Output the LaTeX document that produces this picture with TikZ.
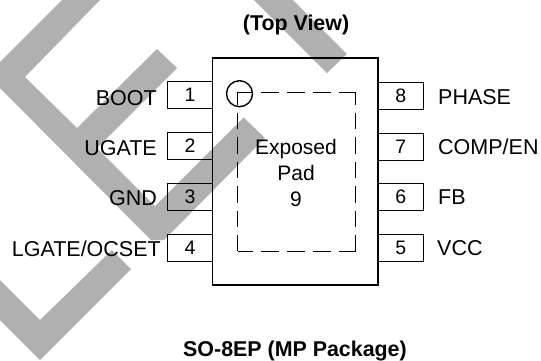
\documentclass[tikz,border=0pt]{standalone}
\usepackage{fontspec}
\setmainfont{Liberation Sans}
\usetikzlibrary{positioning}
\definecolor{markgray}{RGB}{176,176,176}
\tikzstyle{pin} = [rectangle, draw=black, line width=1.2pt,
minimum width=45.5pt, minimum height=27.5pt, inner sep=0pt,
font=\fontsize{19.5}{24}\selectfont]
\tikzstyle{pinname} = [inner sep=0pt, font=\fontsize{21.5}{25}\selectfont]
\tikzstyle{heading} = [inner sep=0pt, anchor=base, font=\bfseries\fontsize{21.4}{25}\selectfont]
\tikzstyle{padedge} = [line width=1.2pt, dash pattern=on 18pt off 8pt, dash phase=3pt]
\tikzstyle{padside} = [line width=1.2pt, dash pattern=on 16.5pt off 8pt, dash phase=4pt]

\begin{document}
\begin{tikzpicture}[x=1pt, y=-1pt]
    \useasboundingbox (0,0) rectangle (541,360);

    % watermark behind the drawing
    \fill[markgray] (62,0) -- (100,0) -- (25,77) -- (77,128) -- (157,49) -- (177,68)
        -- (97,148) -- (155,206) -- (243.5,117.5) -- (265,138) -- (164,240) -- (151,240) -- (0,88) -- (0,62) -- cycle;
    \fill[markgray] (254,0) -- (293,0) -- (347,54) -- (327,73) -- cycle;
    \fill[markgray] (0,280) -- (40,320) -- (112,250) -- (131,269) -- (40,360) -- (0,320) -- cycle;

    % package body
    \node[draw=black, line width=1.2pt, minimum width=165.5pt, minimum height=227pt, inner sep=0pt] (body) at (295.25,171.5) {};

    % left pins
    \node[pin] (pinone) at (190,95) {\raisebox{-3.5pt}{1}};
    \node[pin] (pintwo) at (190,146) {\raisebox{-2pt}{2}};
    \node[pin] (pinthree) at (190,197) {\raisebox{-1.5pt}{3}};
    \node[pin] (pinfour) at (190,248) {\raisebox{-1.5pt}{4}};

    % right pins
    \node[pin] (pineight) at (400.75,96) {8};
    \node[pin] (pinseven) at (400.75,147) {\raisebox{-3pt}{7}};
    \node[pin] (pinsix) at (400.75,197) {\raisebox{-2pt}{6}};
    \node[pin] (pinfive) at (400.75,248) {5};

    % left names
    \node[pinname, anchor=base east] (boot) at (157,105) {BOOT};
    \node[pinname, anchor=base east] (ugate) at (157,155.5) {UGATE};
    \node[pinname, anchor=base east] (gnd) at (157,205.5) {GND};
    \node[pinname, anchor=base east] (lgate) at (161,256) {LGATE/OCSET};

    % right names
    \node[pinname, anchor=base west] (phase) at (438,104) {PHASE};
    \node[pinname, anchor=base west] (comp) at (438,154) {COMP/EN};
    \node[pinname, anchor=base west] (fb) at (438,204) {FB};
    \node[pinname, anchor=base west] (vcc) at (437,255) {VCC};

    % exposed pad
    \node[minimum width=117.5pt, minimum height=158.5pt, inner sep=0pt] (pad) at (296.75,171.75) {};
    \draw[padedge] (pad.north west) -- (pad.north east);
    \draw[padedge] (pad.south west) -- (pad.south east);
    \draw[padside] (pad.north west) -- (pad.south west);
    \draw[padside] (pad.north east) -- (pad.south east);
    \node[inner sep=0pt, align=center, font=\fontsize{21}{26}\selectfont] (padtext) at (296,172.5) {Exposed\\Pad\\9};

    % pin one mark
    \node[circle, draw=black, line width=1.4pt, minimum size=26pt, inner sep=0pt] (dot) at (239.5,93.7) {};

    \node[heading] (top) at (296,30) {(Top View)};
    \node[heading] (bottom) at (295,356.5) {SO-8EP (MP Package)};
\end{tikzpicture}
\end{document}
